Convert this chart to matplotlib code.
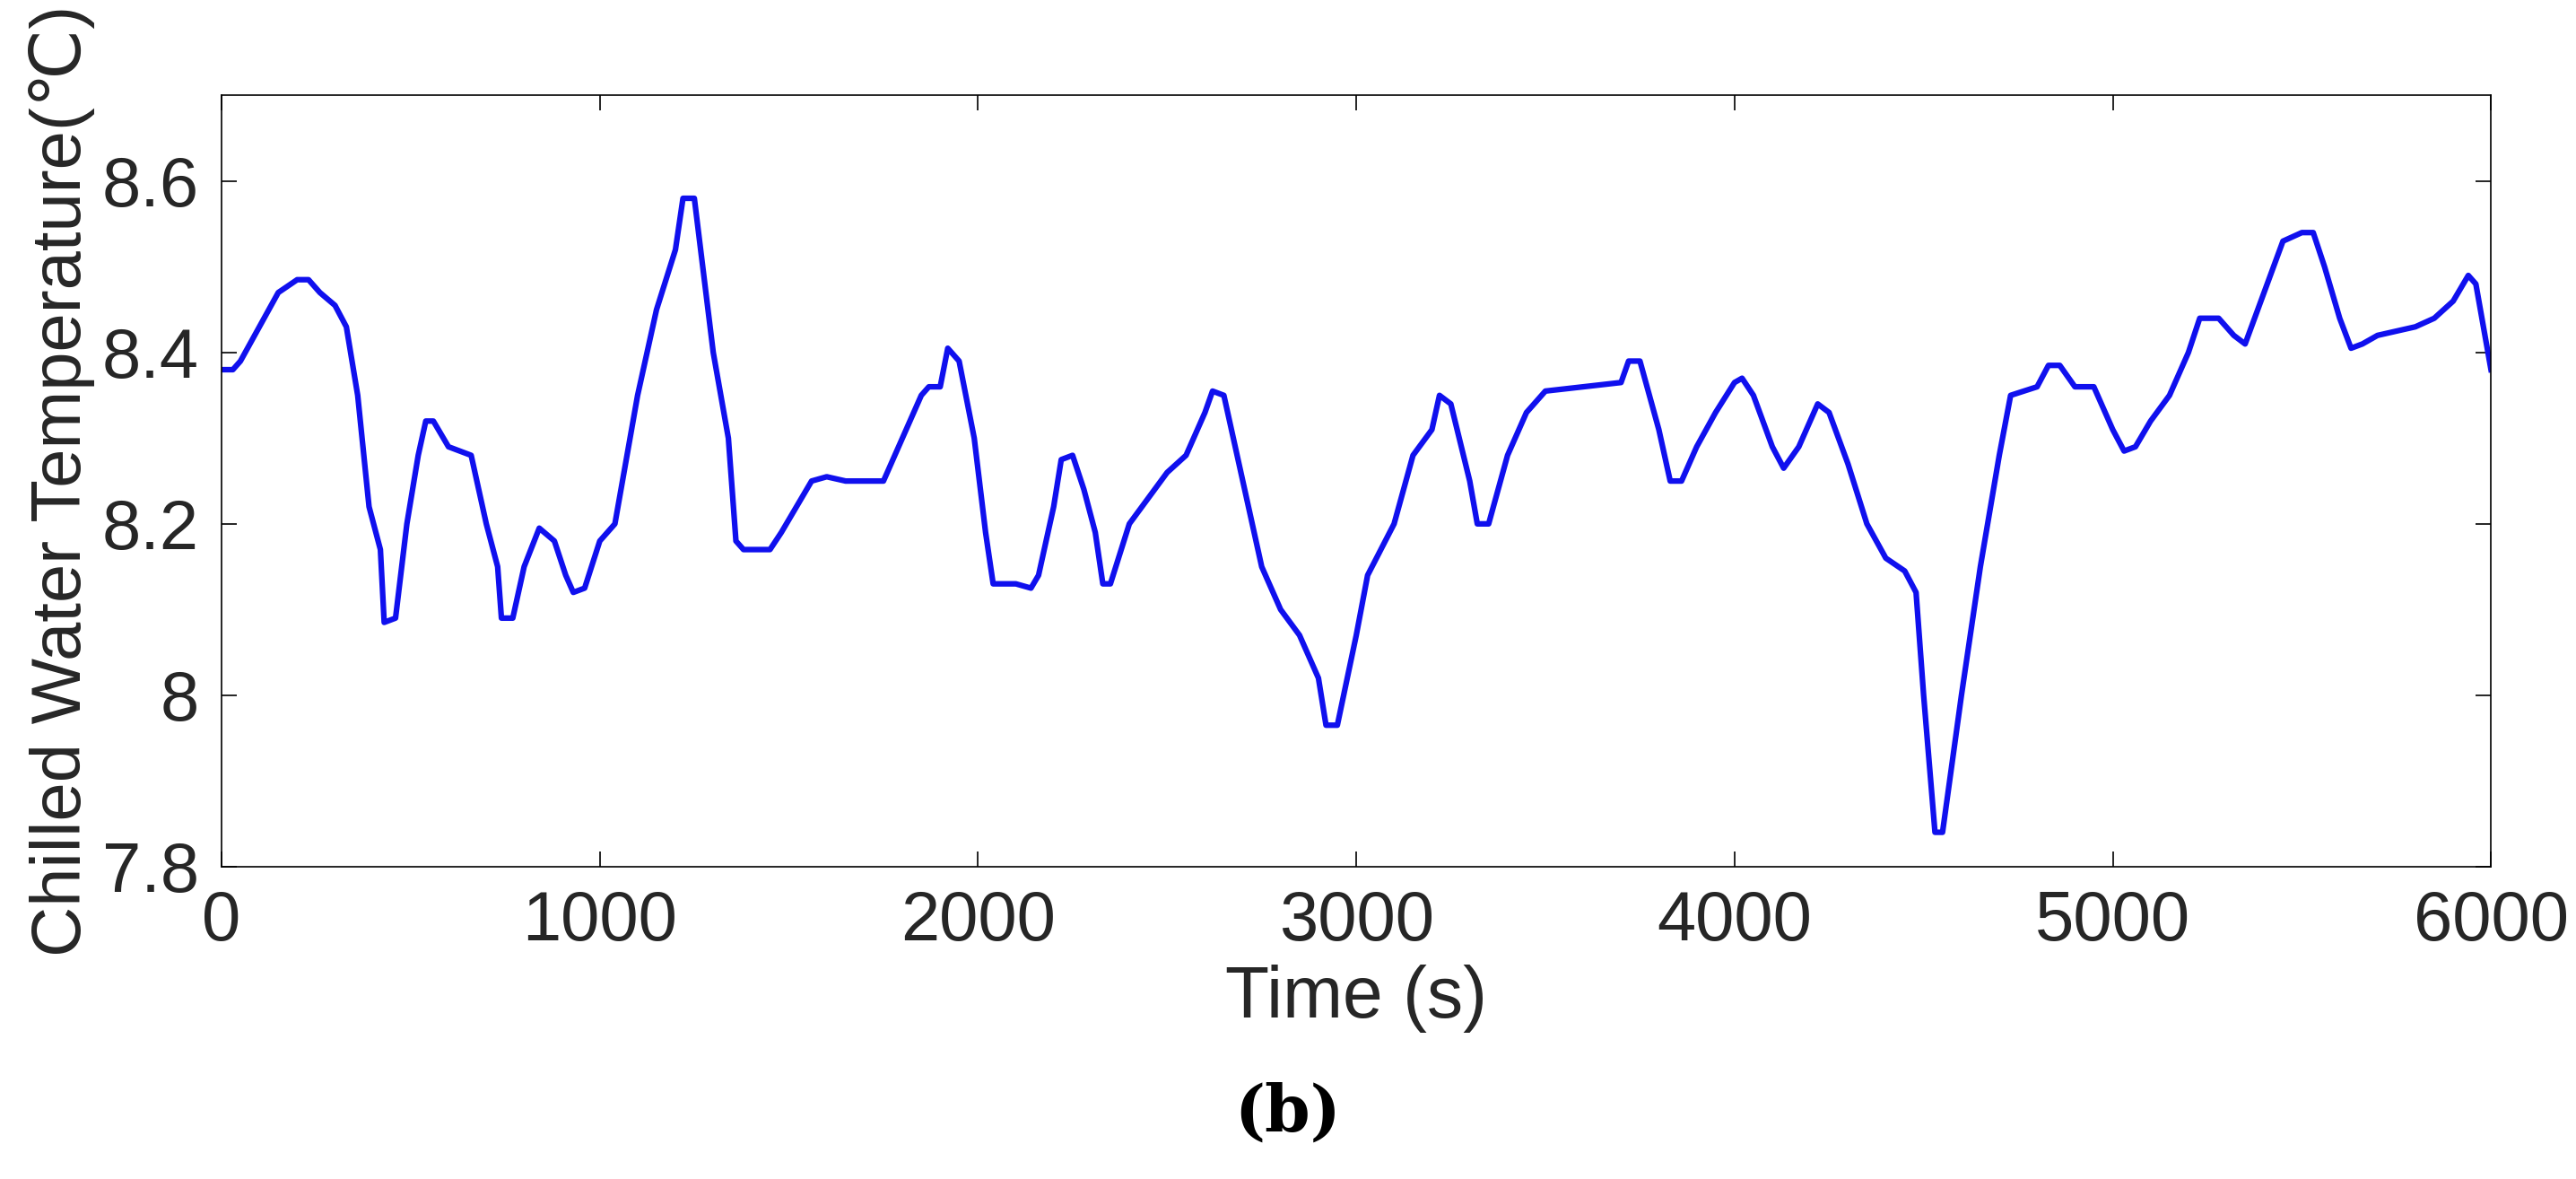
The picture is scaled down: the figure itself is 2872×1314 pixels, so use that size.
import matplotlib
matplotlib.use("Agg")
import matplotlib.pyplot as plt

time_s = [0, 30, 50, 100, 150, 200, 230, 260, 300, 330, 360, 390, 420, 430, 460, 490, 520, 540, 560, 600,
          660, 700, 730, 740, 770, 800, 840, 880, 910, 930, 960, 1000, 1040, 1100, 1150, 1200, 1220, 1250,
          1300, 1340, 1360, 1380, 1420, 1450, 1480, 1520, 1560, 1600, 1650, 1700, 1750, 1800, 1850, 1870,
          1900, 1920, 1950, 1990, 2020, 2040, 2100, 2140, 2160, 2200, 2220, 2250, 2280, 2310, 2330, 2350,
          2400, 2450, 2500, 2550, 2600, 2620, 2650, 2700, 2750, 2800, 2850, 2900, 2920, 2950, 3000, 3030,
          3100, 3150, 3200, 3220, 3250, 3300, 3320, 3350, 3400, 3450, 3500, 3600, 3700, 3720, 3750, 3800,
          3830, 3860, 3900, 3950, 4000, 4020, 4050, 4100, 4130, 4170, 4220, 4250, 4300, 4350, 4400, 4450,
          4480, 4500, 4530, 4550, 4600, 4650, 4700, 4730, 4800, 4830, 4860, 4900, 4950, 5000, 5030, 5060,
          5100, 5150, 5200, 5230, 5280, 5320, 5350, 5400, 5450, 5500, 5530, 5560, 5600, 5630, 5660, 5700,
          5800, 5850, 5900, 5940, 5960, 6000]
temp_c = [8.38, 8.38, 8.39, 8.43, 8.47, 8.485, 8.485, 8.47, 8.455, 8.43, 8.35, 8.22, 8.17, 8.085, 8.09, 8.2,
          8.28, 8.32, 8.32, 8.29, 8.28, 8.2, 8.15, 8.09, 8.09, 8.15, 8.195, 8.18, 8.14, 8.12, 8.125, 8.18,
          8.2, 8.35, 8.45, 8.52, 8.58, 8.58, 8.4, 8.3, 8.18, 8.17, 8.17, 8.17, 8.19, 8.22, 8.25, 8.255, 8.25,
          8.25, 8.25, 8.3, 8.35, 8.36, 8.36, 8.405, 8.39, 8.3, 8.19, 8.13, 8.13, 8.125, 8.14, 8.22, 8.275,
          8.28, 8.24, 8.19, 8.13, 8.13, 8.2, 8.23, 8.26, 8.28, 8.33, 8.355, 8.35, 8.25, 8.15, 8.1, 8.07,
          8.02, 7.965, 7.965, 8.07, 8.14, 8.2, 8.28, 8.31, 8.35, 8.34, 8.25, 8.2, 8.2, 8.28, 8.33, 8.355,
          8.36, 8.365, 8.39, 8.39, 8.31, 8.25, 8.25, 8.29, 8.33, 8.365, 8.37, 8.35, 8.29, 8.265, 8.29, 8.34,
          8.33, 8.27, 8.2, 8.16, 8.145, 8.12, 8.0, 7.84, 7.84, 8.0, 8.15, 8.28, 8.35, 8.36, 8.385, 8.385,
          8.36, 8.36, 8.31, 8.285, 8.29, 8.32, 8.35, 8.4, 8.44, 8.44, 8.42, 8.41, 8.47, 8.53, 8.54, 8.54,
          8.5, 8.44, 8.405, 8.41, 8.42, 8.43, 8.44, 8.46, 8.49, 8.48, 8.38]
x_ticks = [0, 1000, 2000, 3000, 4000, 5000, 6000]
y_ticks = [7.8, 8.0, 8.2, 8.4, 8.6]
y_labels = ["7.8", "8", "8.2", "8.4", "8.6"]

plt.rcParams["font.family"] = ["Liberation Sans", "DejaVu Sans"]
fig = plt.figure(figsize=(28.72, 13.14), dpi=100)
ax = fig.add_axes([0.086, 0.265, 0.881, 0.654])
ax.plot(time_s, temp_c, color="#1010ee", lw=4.5)
ax.set_xlim(0, 6000); ax.set_ylim(7.8, 8.7)
ax.set_xticks(x_ticks); ax.set_yticks(y_ticks, y_labels)
ax.tick_params(direction="in", labelsize=56, labelcolor="#262626", length=12, width=1.2, pad=18,
               top=True, right=True)
for s in ax.spines.values():
    s.set_linewidth(1.2)
ax.set_xlabel("Time (s)", fontsize=58, color="#262626", labelpad=8)
ax.set_ylabel("Chilled Water Temperature(℃)", fontsize=56, color="#262626", labelpad=6)
fig.text(0.5, 0.04, "(b)", fontsize=52, fontweight="bold", family="DejaVu Serif", ha="center")
fig.savefig("out.png", dpi=100)
